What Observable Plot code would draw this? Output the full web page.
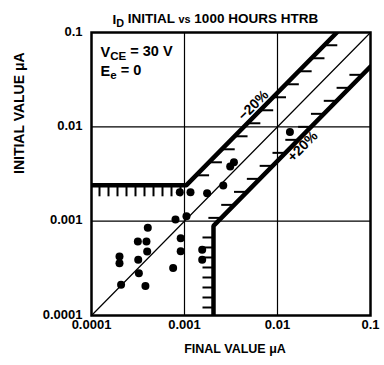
<!DOCTYPE html>
<html>
<head>
<meta charset="utf-8">
<script src="https://cdn.jsdelivr.net/npm/d3@7"></script>
<script src="https://cdn.jsdelivr.net/npm/@observablehq/plot@0.6"></script>
<style>
  html, body { margin: 0; padding: 0; background: #fff; }
  svg { font-family: "Liberation Sans", Arial, sans-serif; }
</style>
</head>
<body>
<div id="chart"></div>
<script>
// ---- data ----
const axisDomain = [0.0001, 0.1];
const xTicks = [0.0001, 0.001, 0.01, 0.1];
const xTickLabels = ["0.0001", "0.001", "0.01", "0.1"];
const yTicks = [0.0001, 0.001, 0.01, 0.1];
const yTickLabels = ["0.0001", "0.001", "0.01", "0.1"];
const gridValues = [0.001, 0.01];

// measured devices: final value (x) and initial value (y), µA
const finalValue = [0.00089, 0.00116, 0.00175, 0.00261, 0.0031, 0.0034, 0.0008, 0.00105,
  0.000403, 0.000315, 0.00039, 0.00091, 0.000397, 0.00091, 0.0002, 0.0002, 0.000318,
  0.000323, 0.000755, 0.000208, 0.00038, 0.00155, 0.00155, 0.0136];
const initialValue = [0.00203, 0.00203, 0.00198, 0.00239, 0.0038, 0.0042, 0.00104, 0.00113,
  0.00085, 0.00061, 0.00061, 0.00066, 0.000478, 0.00048, 0.000423, 0.000359, 0.00039,
  0.000281, 0.000318, 0.000212, 0.000205, 0.000498, 0.00039, 0.0088];

// limit band parameters
const bandRatio = 2.3;          // upper limit y = ratio*x, lower limit y = x/ratio
const upperFloor = 0.0024;      // horizontal part of upper limit
const lowerFloor = 0.00205;     // vertical part of lower limit
const bandLabels = ["\u221220%", "+20%"];
const bandLabelX = [0.0055, 0.0186];
const bandLabelY = [0.0169, 0.0062];

// ---- derived geometry ----
const [lo, hi] = axisDomain;
const points = finalValue.map((x, i) => ({x, y: initialValue[i]}));
const diag = axisDomain.map(v => ({x: v, y: v}));
const upperLine = [
  {x: lo, y: upperFloor},
  {x: upperFloor / bandRatio, y: upperFloor},
  {x: hi / bandRatio, y: hi}
];
const lowerLine = [
  {x: lowerFloor, y: lo},
  {x: lowerFloor, y: lowerFloor / bandRatio},
  {x: hi, y: hi / bandRatio}
];

// hatch ticks (decorative), steps in decades
const pxPerDecX = 93, pxPerDecY = 94.3;
const hatchLen = 13, hatchLenFlat = 11, hatchStepDiag = 13, hatchStepFlat = 9, hatchStepVert = 10;
const hatches = [];
for (let lx = Math.log10(lo) + 8 / pxPerDecX; lx < Math.log10(upperFloor / bandRatio) - 0.02; lx += hatchStepFlat / pxPerDecX) {
  const x = 10 ** lx;
  hatches.push({x1: x, y1: upperFloor, x2: x, y2: upperFloor / 10 ** (hatchLenFlat / pxPerDecY)});
}
for (let ly = Math.log10(upperFloor) + 10 / pxPerDecY; ly < Math.log10(hi); ly += hatchStepDiag / pxPerDecY) {
  const y = 10 ** ly, x = y / bandRatio;
  hatches.push({x1: x, y1: y, x2: x * 10 ** (hatchLen / pxPerDecX), y2: y});
}
for (let ly = Math.log10(lo) + 8 / pxPerDecY; ly < Math.log10(lowerFloor / bandRatio) - 0.02; ly += hatchStepVert / pxPerDecY) {
  const y = 10 ** ly;
  hatches.push({x1: lowerFloor, y1: y, x2: lowerFloor / 10 ** (hatchLenFlat / pxPerDecX), y2: y});
}
for (let ly = Math.log10(lowerFloor / bandRatio) + 8 / pxPerDecY; ly < Math.log10(hi / bandRatio); ly += hatchStepDiag / pxPerDecY) {
  const y = 10 ** ly, x = y * bandRatio;
  hatches.push({x1: x, y1: y, x2: x / 10 ** (hatchLen / pxPerDecX), y2: y});
}

const font = 13;
const chart = Plot.plot({
  width: 384,
  height: 365,
  marginLeft: 91,
  marginRight: 14,
  marginTop: 32,
  marginBottom: 50,
  style: {background: "#fff", color: "#000", fontFamily: "'Liberation Sans', Arial, sans-serif"},
  x: {type: "log", domain: axisDomain, axis: null},
  y: {type: "log", domain: axisDomain, axis: null},
  marks: [
    Plot.ruleX(gridValues, {stroke: "#000", strokeWidth: 1.2}),
    Plot.ruleY(gridValues, {stroke: "#000", strokeWidth: 1.2}),
    Plot.line(diag, {x: "x", y: "y", stroke: "#000", strokeWidth: 1.2}),
    Plot.link(hatches, {x1: "x1", y1: "y1", x2: "x2", y2: "y2", stroke: "#000", strokeWidth: 2, clip: true}),
    Plot.line(upperLine, {x: "x", y: "y", stroke: "#000", strokeWidth: 4.5, strokeLinejoin: "miter", clip: true}),
    Plot.line(lowerLine, {x: "x", y: "y", stroke: "#000", strokeWidth: 4.5, strokeLinejoin: "miter", clip: true}),
    Plot.dot(points, {x: "x", y: "y", r: 4, fill: "#000"}),
    Plot.frame({stroke: "#000", strokeWidth: 2.5}),
    Plot.text(xTicks, {x: d => d, frameAnchor: "bottom", dy: 13, text: d => xTickLabels[xTicks.indexOf(d)], fontSize: font, fontWeight: "bold"}),
    Plot.text(yTicks, {y: d => d, frameAnchor: "left", dx: -9, dy: -1, textAnchor: "end", text: d => yTickLabels[yTicks.indexOf(d)], fontSize: font, fontWeight: "bold"}),
    // axis titles
    Plot.text(["FINAL VALUE \u03bcA"], {frameAnchor: "bottom", dy: 37, dx: 4, fontSize: 12.5, fontWeight: "bold", letterSpacing: "0.6px"}),
    Plot.text(["INITIAL VALUE \u03bcA"], {frameAnchor: "left", dx: -72, rotate: -90, fontSize: 14, fontWeight: "bold", letterSpacing: "1.6px"}),
    // title
    Plot.text(["ID INITIAL vs 1000 HOURS HTRB"], {frameAnchor: "top-left", dx: 21, dy: -18, textAnchor: "start", fontSize: 13.5, fontWeight: "bold", letterSpacing: "0.85px"}),
    // conditions
    Plot.text(["VCE = 30 V"], {frameAnchor: "top-left", dx: 9, dy: 14, textAnchor: "start", fontSize: 14.5, fontWeight: "bold", letterSpacing: "0.4px"}),
    Plot.text(["Ee = 0"], {frameAnchor: "top-left", dx: 9, dy: 33, textAnchor: "start", fontSize: 14.5, fontWeight: "bold", letterSpacing: "0.4px"}),
    // band labels
    Plot.text(bandLabels, {x: bandLabelX, y: bandLabelY, rotate: -45, fontSize: 14, fontWeight: "bold"})
  ]
});
document.getElementById("chart").appendChild(chart);

// subscripts
const sub = (el, parts) => {
  const t = d3.select(el);
  t.text("");
  parts.forEach(([s, isSub, shift]) => {
    const ts = t.append("tspan").text(s);
    if (shift) ts.attr("dy", shift);
    if (isSub) ts.attr("font-size", "0.8em");
  });
};
d3.select(chart).selectAll("text").each(function () {
  const s = this.textContent;
  if (s === "ID INITIAL vs 1000 HOURS HTRB") sub(this, [["I"], ["D", true, "0.3em"], [" INITIAL ", false, "-0.3em"], ["vs", true], [" 1000 HOURS HTRB"]]);
  else if (s === "VCE = 30 V") sub(this, [["V"], ["CE", true, "0.25em"], [" = 30 V", false, "-0.25em"]]);
  else if (s === "Ee = 0") sub(this, [["E"], ["e", true, "0.25em"], [" = 0", false, "-0.25em"]]);
});
</script>
</body>
</html>
